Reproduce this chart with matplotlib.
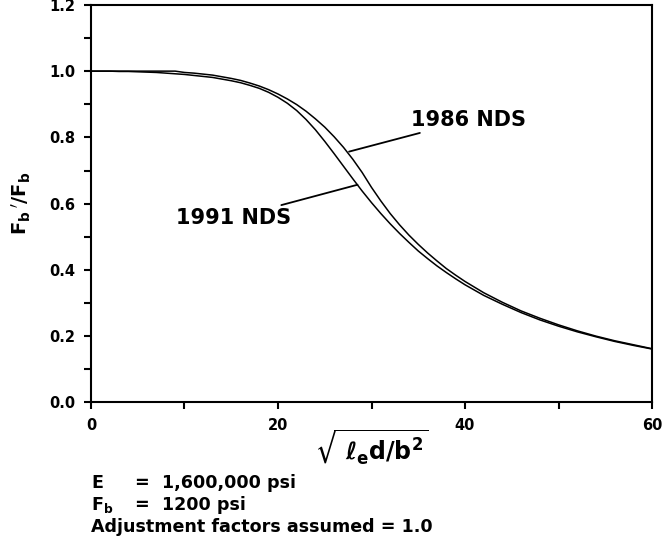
import matplotlib
matplotlib.use("Agg")
import matplotlib.pyplot as plt
from matplotlib.ticker import MultipleLocator

plt.rcParams["font.family"] = ["DejaVu Sans"]
plt.rcParams["font.weight"] = "bold"
plt.rcParams["mathtext.fontset"] = "dejavusans"
plt.rcParams["mathtext.default"] = "bf"

# slenderness ratio sqrt(le d / b^2)
slenderness = [0, 1, 2, 3, 4, 5, 6, 7, 8, 9, 10, 11, 12, 13, 14, 15, 16, 17,
               18, 19, 20, 21, 22, 23, 24, 25, 26, 27, 28, 29, 30, 31, 32, 33,
               34, 35, 36, 37, 38, 39, 40, 42, 44, 46, 48, 50, 52, 54, 56, 58,
               60]

# Fb'/Fb
nds_1986 = [1.000, 1.000, 1.000, 1.000, 1.000, 1.000, 1.000, 1.000, 1.000,
            1.000, 0.996, 0.994, 0.991, 0.988, 0.983, 0.978, 0.972, 0.964,
            0.955, 0.944, 0.931, 0.916, 0.899, 0.879, 0.856, 0.831, 0.802,
            0.770, 0.734, 0.694, 0.649, 0.608, 0.570, 0.536, 0.505, 0.477,
            0.451, 0.427, 0.404, 0.384, 0.365, 0.331, 0.302, 0.276, 0.254,
            0.234, 0.216, 0.200, 0.186, 0.174, 0.162]
nds_1991 = [1.000, 1.000, 1.000, 0.999, 0.999, 0.998, 0.997, 0.996, 0.994,
            0.992, 0.990, 0.987, 0.984, 0.981, 0.976, 0.971, 0.965, 0.957,
            0.948, 0.936, 0.921, 0.903, 0.881, 0.854, 0.823, 0.788, 0.751,
            0.713, 0.675, 0.638, 0.603, 0.570, 0.539, 0.510, 0.483, 0.457,
            0.434, 0.412, 0.392, 0.373, 0.355, 0.323, 0.296, 0.271, 0.249,
            0.230, 0.213, 0.198, 0.184, 0.172, 0.161]

fig = plt.figure(figsize=(6.64, 5.43), dpi=100)
ax = fig.add_axes([0.137, 0.259, 0.845, 0.732])

ax.plot(slenderness, nds_1986, color="black", lw=1.1)
ax.plot(slenderness, nds_1991, color="black", lw=1.1)

ax.set_xlim(0, 60)
ax.set_ylim(0, 1.2)
ax.xaxis.set_major_locator(MultipleLocator(20))
ax.xaxis.set_minor_locator(MultipleLocator(10))
ax.yaxis.set_major_locator(MultipleLocator(0.2))
ax.yaxis.set_minor_locator(MultipleLocator(0.1))
ax.yaxis.set_major_formatter(lambda v, p: f"{v:.1f}")
ax.tick_params(which="both", direction="out", width=1.5, length=5,
               labelsize=10.5, pad=6)
for lab in ax.get_xticklabels() + ax.get_yticklabels():
    lab.set_fontweight("bold")
for sp in ax.spines.values():
    sp.set_linewidth(1.5)

ax.set_ylabel(r"$\mathbf{F_b\,'/F_b}$", fontsize=14, labelpad=12)
ax.set_xlabel(r"$\sqrt{\ \ell_e\mathbf{d/b^2}}$", fontsize=17, labelpad=-4)

# callouts
ax.annotate("1986 NDS", xy=(27.6, 0.757), xytext=(34.2, 0.852),
            fontsize=15, fontweight="bold", va="center", ha="left",
            arrowprops=dict(arrowstyle="-", color="black", lw=1.3,
                            shrinkA=0, shrinkB=0))
ax.annotate("1991 NDS", xy=(28.5, 0.657), xytext=(21.4, 0.557),
            fontsize=15, fontweight="bold", va="center", ha="right",
            arrowprops=dict(arrowstyle="-", color="black", lw=1.3,
                            shrinkA=0, shrinkB=0))

# notes under the chart
fs = 12.6
fig.text(0.137, 0.110, "E", fontsize=fs, fontweight="bold", va="center")
fig.text(0.202, 0.110, "=", fontsize=fs, fontweight="bold", va="center")
fig.text(0.244, 0.110, "1,600,000 psi", fontsize=fs, fontweight="bold", va="center")
fig.text(0.137, 0.070, r"$\mathbf{F_b}$", fontsize=fs, va="center")
fig.text(0.202, 0.070, "=", fontsize=fs, fontweight="bold", va="center")
fig.text(0.244, 0.070, "1200 psi", fontsize=fs, fontweight="bold", va="center")
fig.text(0.137, 0.030, "Adjustment factors assumed = 1.0", fontsize=fs,
         fontweight="bold", va="center")

fig.savefig("out.png", dpi=100)
